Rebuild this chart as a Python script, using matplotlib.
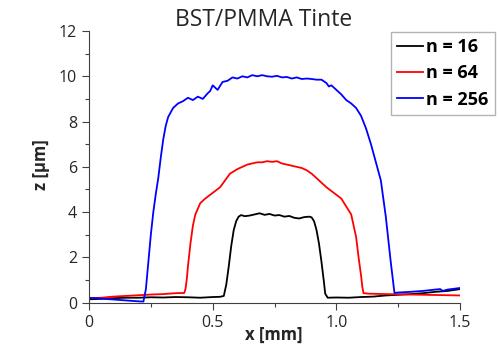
import matplotlib
matplotlib.use("Agg")
import matplotlib.pyplot as plt
from matplotlib.ticker import MultipleLocator, FixedLocator

plt.rcParams['font.family'] = ['Open Sans', 'DejaVu Sans']

# n = 16 (black)
x16 = [0, 0.05, 0.1, 0.15, 0.2, 0.25, 0.3, 0.35, 0.4, 0.45, 0.5, 0.53, 0.545, 0.555, 0.565,
       0.575, 0.585, 0.595, 0.605, 0.615, 0.63, 0.65, 0.67, 0.69, 0.71, 0.73, 0.75, 0.77,
       0.79, 0.81, 0.83, 0.85, 0.87, 0.89, 0.9, 0.91, 0.92, 0.93, 0.94, 0.95, 0.955, 0.965,
       1.0, 1.05, 1.1, 1.15, 1.2, 1.25, 1.3, 1.35, 1.4, 1.45, 1.5]
y16 = [0.15, 0.17, 0.2, 0.22, 0.22, 0.24, 0.23, 0.25, 0.24, 0.22, 0.25, 0.26, 0.3, 0.8, 1.6,
       2.5, 3.2, 3.6, 3.8, 3.87, 3.82, 3.85, 3.9, 3.95, 3.88, 3.92, 3.85, 3.87,
       3.8, 3.83, 3.75, 3.72, 3.78, 3.8, 3.77, 3.6, 3.2, 2.6, 1.8, 0.9, 0.4, 0.22,
       0.23, 0.22, 0.25, 0.27, 0.32, 0.35, 0.38, 0.42, 0.48, 0.52, 0.6]

# n = 64 (red)
x64 = [0, 0.05, 0.1, 0.15, 0.2, 0.25, 0.3, 0.35, 0.385, 0.39, 0.395, 0.40, 0.41, 0.42, 0.43,
       0.45, 0.47, 0.5, 0.53, 0.55, 0.57, 0.6, 0.62, 0.64, 0.66, 0.68, 0.7, 0.72, 0.74, 0.76,
       0.78, 0.8, 0.82, 0.84, 0.86, 0.88, 0.9, 0.93, 0.96, 0.99, 1.02, 1.04, 1.06, 1.07, 1.08,
       1.09, 1.1, 1.105, 1.11, 1.13, 1.2, 1.3, 1.4, 1.5]
y64 = [0.2, 0.22, 0.27, 0.3, 0.33, 0.36, 0.38, 0.42, 0.43, 0.6, 1.0, 1.6, 2.6, 3.4, 3.9,
       4.4, 4.6, 4.85, 5.1, 5.4, 5.7, 5.9, 6.0, 6.1, 6.15, 6.2, 6.2, 6.25, 6.22, 6.25,
       6.15, 6.1, 6.05, 6.0, 5.95, 5.85, 5.7, 5.4, 5.1, 4.85, 4.6, 4.25, 3.9, 3.4, 2.9,
       2.0, 1.2, 0.7, 0.42, 0.4, 0.38, 0.36, 0.34, 0.32]

# n = 256 (blue)
x256 = [0, 0.05, 0.1, 0.15, 0.2, 0.22, 0.23, 0.24, 0.25, 0.26, 0.27, 0.28, 0.29, 0.30, 0.31,
        0.32, 0.34, 0.36, 0.38, 0.40, 0.42, 0.44, 0.46, 0.48, 0.49, 0.50, 0.52, 0.54, 0.56,
        0.58, 0.6, 0.62, 0.64, 0.66, 0.68, 0.7, 0.72, 0.74, 0.76, 0.78, 0.8, 0.82, 0.84,
        0.86, 0.88, 0.9, 0.92, 0.94, 0.96, 0.97, 0.98, 1.0, 1.02, 1.04, 1.06, 1.08, 1.1,
        1.12, 1.14, 1.16, 1.18, 1.2, 1.22, 1.235, 1.25, 1.3, 1.35, 1.4, 1.42, 1.43, 1.45, 1.5]
y256 = [0.22, 0.18, 0.14, 0.1, 0.06, 0.05, 0.6, 1.8, 3.0, 4.0, 4.8, 5.5, 6.4, 7.2, 7.8,
        8.2, 8.6, 8.8, 8.9, 9.05, 8.95, 9.1, 9.0, 9.25, 9.35, 9.6, 9.4, 9.75, 9.8,
        9.95, 9.9, 10.0, 9.95, 10.05, 10.0, 10.05, 10.0, 9.98, 10.02, 9.95, 9.97, 9.9, 9.95,
        9.88, 9.9, 9.88, 9.85, 9.85, 9.7, 9.55, 9.6, 9.4, 9.2, 8.95, 8.8, 8.6, 8.25,
        7.7, 7.0, 6.2, 5.4, 3.8, 1.8, 0.43, 0.45, 0.48, 0.52, 0.58, 0.6, 0.52, 0.58, 0.65]

labels = ["n = 16", "n = 64", "n = 256"]
colors = ["black", "#ff0000", "#0000ff"]
x_ticks = [0, 0.5, 1.0, 1.5]
x_ticklabels = ["0", "0.5", "1.0", "1.5"]

fig = plt.figure(figsize=(4.99, 3.46), dpi=100)
ax = fig.add_axes([89/499, 1-302.7/346, (460-89)/499, (302.7-31)/346])

for xs, ys, lab, c in zip([x16, x64, x256], [y16, y64, y256], labels, colors):
    ax.plot(xs, ys, color=c, lw=1.3, label=lab)

ax.set_xlim(0, 1.5)
ax.set_ylim(0, 12)
ax.xaxis.set_major_locator(FixedLocator(x_ticks))
ax.set_xticklabels(x_ticklabels)
ax.xaxis.set_minor_locator(MultipleLocator(0.25))
ax.yaxis.set_major_locator(MultipleLocator(2))
ax.yaxis.set_minor_locator(MultipleLocator(1))

for s in ['top', 'right']:
    ax.spines[s].set_visible(False)
for s in ['left', 'bottom']:
    ax.spines[s].set_color('#404040')
    ax.spines[s].set_linewidth(0.8)
ax.tick_params(which='major', length=5, width=0.8, color='#404040', labelsize=11.5,
               labelcolor='#262626', direction='out')
ax.tick_params(which='minor', length=3, width=0.8, color='#404040', direction='out')

fig.text(264/499, 1-20/346, "BST/PMMA Tinte", ha='center', va='center', fontsize=16.5, color='#262626')
fig.text(274/499, 1-335/346, "x [mm]", ha='center', va='center', fontsize=12, fontweight='bold', color='#262626')
fig.text(41/499, 1-165/346, "z [µm]", ha='center', va='center', rotation=90, fontsize=12,
         fontweight='bold', color='#262626')

leg = fig.legend(loc='upper right', bbox_to_anchor=(495/499, 1-32/346), fancybox=False,
                 frameon=True, handlelength=1.4, prop={'weight': 'bold', 'size': 13},
                 borderpad=0.35, labelspacing=0.45, handletextpad=0.2, borderaxespad=0)
leg.get_frame().set_edgecolor('#a0a0a0')
leg.get_frame().set_linewidth(1.0)

fig.savefig("out.png", dpi=100)
